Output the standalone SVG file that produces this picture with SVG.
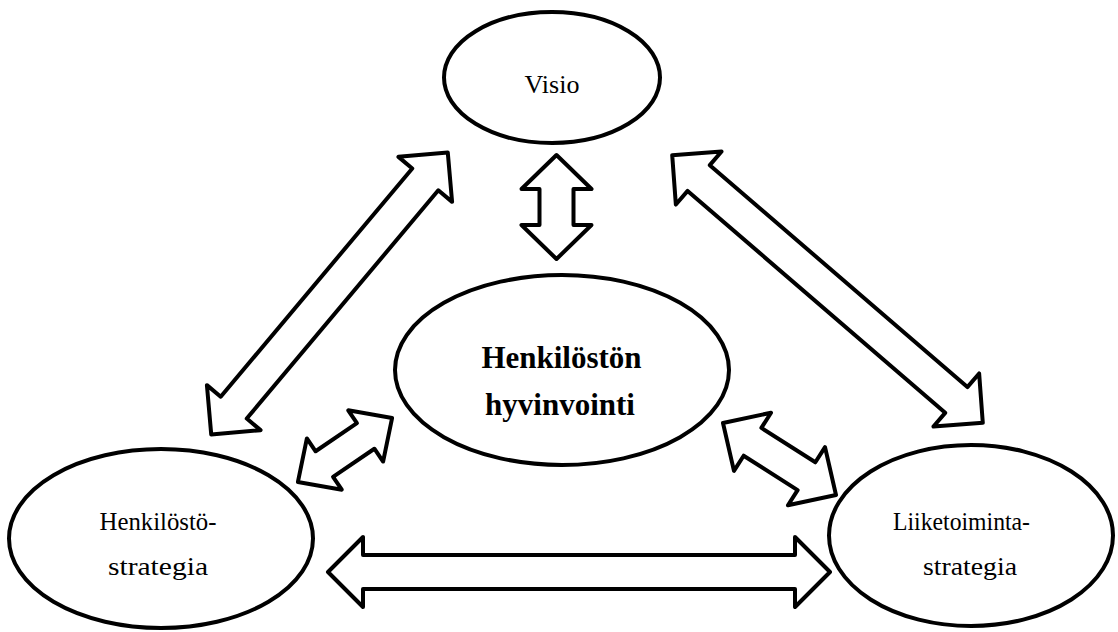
<svg xmlns="http://www.w3.org/2000/svg" width="1118" height="632" viewBox="0 0 1118 632">
  <style>
    .node { fill: #ffffff; stroke: #000000; stroke-width: 4; }
    .arrow { fill: #ffffff; stroke: #000000; stroke-width: 4; stroke-linejoin: round; }
    .lbl { font-family: "Liberation Serif", "Times New Roman", serif; font-size: 26px; fill: #000000; text-anchor: middle; }
    .big { font-family: "Liberation Serif", "Times New Roman", serif; font-size: 31px; font-weight: bold; fill: #000000; text-anchor: middle; }
  </style>
  <rect x="0" y="0" width="1118" height="632" fill="#ffffff"/>
  <g id="connectors">
    <polygon class="arrow" transform="translate(579,572)" points="-251,0 -216,-35 -216,-17 216,-17 216,-35 251,0 216,35 216,17 -216,17 -216,35"/>
    <polygon class="arrow" transform="translate(556.5,207) rotate(90)" points="-52,0 -18,-35 -18,-17 18,-17 18,-35 52,0 18,35 18,17 -18,17 -18,35"/>
    <polygon class="arrow" transform="translate(329.5,293.5) rotate(130)" points="-184,0 -149,-35 -149,-17 149,-17 149,-35 184,0 149,35 149,17 -149,17 -149,35"/>
    <polygon class="arrow" transform="translate(827.5,289) rotate(40.75)" points="-205,0 -170,-35 -170,-17 170,-17 170,-35 205,0 170,35 170,17 -170,17 -170,35"/>
    <polygon class="arrow" transform="translate(345,450) rotate(-34.25)" points="-57,0 -25,-31 -25,-15.5 25,-15.5 25,-31 57,0 25,31 25,15.5 -25,15.5 -25,31"/>
    <polygon class="arrow" transform="translate(779.5,459) rotate(32.5)" points="-67,0 -32,-34.5 -32,-16.5 32,-16.5 32,-34.5 67,0 32,34.5 32,16.5 -32,16.5 -32,34.5"/>
  </g>
  <g id="visio">
    <ellipse class="node" cx="552" cy="77.5" rx="108" ry="65.5"/>
    <text class="lbl" x="552" y="93">Visio</text>
  </g>
  <g id="hyvinvointi">
    <ellipse class="node" cx="562" cy="370" rx="167" ry="95"/>
    <text class="big" x="561.5" y="368">Henkilöstön</text>
    <text class="big" x="560" y="415">hyvinvointi</text>
  </g>
  <g id="henkilostostrategia">
    <ellipse class="node" cx="161" cy="538.5" rx="152" ry="89.5"/>
    <text class="lbl" x="158" y="530" textLength="117" lengthAdjust="spacingAndGlyphs">Henkilöstö-</text>
    <text class="lbl" x="158" y="575" textLength="100" lengthAdjust="spacingAndGlyphs">strategia</text>
  </g>
  <g id="liiketoimintastrategia">
    <ellipse class="node" cx="971" cy="535.5" rx="142" ry="90.5"/>
    <text class="lbl" x="961.5" y="530" textLength="137" lengthAdjust="spacingAndGlyphs">Liiketoiminta-</text>
    <text class="lbl" x="970" y="575" textLength="94" lengthAdjust="spacingAndGlyphs">strategia</text>
  </g>
</svg>
